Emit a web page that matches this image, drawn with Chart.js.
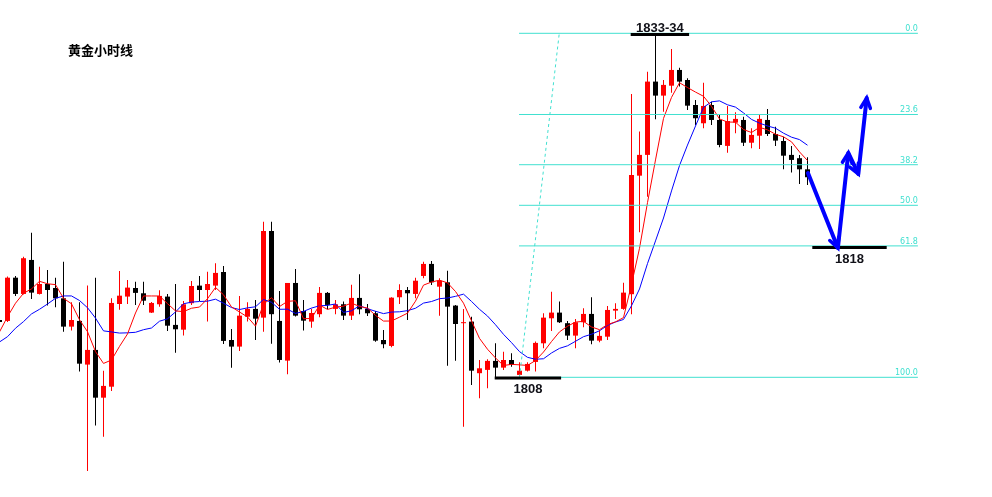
<!DOCTYPE html>
<html>
<head>
<meta charset="utf-8">
<script src="https://cdn.jsdelivr.net/npm/chart.js@4.4.1/dist/chart.umd.min.js"></script>
<style>
  html, body { margin: 0; padding: 0; background: #fff; }
  #wrap { width: 992px; height: 497px; position: relative; }
</style>
</head>
<body>
<div id="wrap"><canvas id="chart"></canvas></div>
<script>
// hourly gold candles, first one is bar index -1 (cut at the left edge)
const firstBar = -1;
const opens = [1812.33, 1812.26, 1815.53, 1814.30, 1816.87, 1814.30, 1815.05, 1814.75, 1813.97, 1811.83,
  1812.26, 1808.96, 1810.07, 1806.46, 1807.29, 1813.54, 1814.10, 1814.75, 1814.35, 1812.89,
  1813.52, 1814.10, 1811.96, 1811.60, 1813.60, 1814.93, 1814.60, 1814.93, 1815.96, 1810.82,
  1810.32, 1812.58, 1813.17, 1812.51, 1819.06, 1812.26, 1809.26, 1815.13, 1813.01, 1812.21,
  1812.77, 1814.38, 1813.17, 1813.52, 1812.66, 1814.00, 1813.17, 1812.84, 1810.82, 1810.37,
  1814.05, 1814.60, 1814.30, 1815.66, 1816.57, 1814.85, 1815.18, 1813.42, 1812.09, 1812.21,
  1808.31, 1808.56, 1809.24, 1808.73, 1809.31, 1808.18, 1808.50, 1809.16, 1810.57, 1812.46,
  1812.89, 1812.09, 1811.15, 1812.16, 1812.79, 1810.77, 1811.07, 1813.04, 1813.17, 1814.28,
  1823.24, 1824.81, 1830.35, 1829.29, 1830.04, 1831.23, 1830.47, 1828.58, 1827.20, 1828.58,
  1827.45, 1825.49, 1827.25, 1827.45, 1825.73, 1826.26, 1827.45, 1826.39, 1825.86, 1824.81,
  1824.56, 1823.72];
const highs = [1812.49, 1815.61, 1815.66, 1817.12, 1818.93, 1816.36, 1816.11, 1815.53, 1816.74, 1813.67,
  1813.67, 1814.93, 1815.53, 1808.50, 1813.97, 1816.04, 1815.36, 1815.23, 1815.23, 1813.69,
  1814.58, 1814.30, 1815.05, 1813.77, 1815.28, 1815.66, 1815.98, 1816.62, 1816.42, 1811.65,
  1814.15, 1813.67, 1813.85, 1819.76, 1819.76, 1814.53, 1815.13, 1816.19, 1813.85, 1813.19,
  1814.83, 1814.45, 1813.85, 1813.72, 1815.00, 1815.79, 1813.54, 1813.01, 1811.58, 1814.05,
  1815.03, 1814.83, 1815.53, 1816.74, 1816.79, 1815.49, 1816.06, 1813.47, 1813.17, 1812.58,
  1809.31, 1809.36, 1810.57, 1809.94, 1809.82, 1809.14, 1809.14, 1810.71, 1812.84, 1814.47,
  1813.72, 1812.26, 1812.41, 1813.22, 1814.05, 1811.58, 1813.39, 1813.60, 1815.15, 1829.42,
  1826.57, 1831.10, 1833.87, 1830.47, 1832.82, 1831.40, 1830.60, 1828.96, 1830.27, 1828.83,
  1827.83, 1828.51, 1828.03, 1827.70, 1826.82, 1827.88, 1828.28, 1826.94, 1826.19, 1825.49,
  1824.81, 1824.63];
const lows = [1812.03, 1812.18, 1814.15, 1814.25, 1813.92, 1814.25, 1813.42, 1813.29, 1811.45, 1811.53,
  1808.43, 1800.92, 1804.35, 1803.51, 1806.97, 1813.11, 1813.54, 1813.47, 1813.47, 1812.86,
  1813.34, 1811.50, 1809.86, 1811.15, 1813.47, 1813.77, 1812.21, 1814.60, 1810.52, 1808.73,
  1809.99, 1812.21, 1810.82, 1811.45, 1810.54, 1809.11, 1808.23, 1812.60, 1811.53, 1811.75,
  1812.54, 1813.14, 1812.77, 1812.33, 1812.33, 1812.77, 1812.64, 1810.69, 1810.20, 1810.27,
  1813.54, 1812.33, 1813.97, 1815.49, 1814.98, 1812.66, 1808.88, 1809.26, 1804.27, 1807.42,
  1806.42, 1807.17, 1808.00, 1808.56, 1808.80, 1808.12, 1808.43, 1808.43, 1810.20, 1811.50,
  1812.10, 1810.82, 1810.20, 1811.78, 1810.50, 1810.65, 1810.82, 1812.41, 1813.10, 1812.77,
  1818.96, 1821.65, 1827.50, 1828.08, 1829.51, 1829.97, 1828.21, 1827.07, 1826.82, 1827.07,
  1825.39, 1824.98, 1826.45, 1825.49, 1825.31, 1825.26, 1826.24, 1825.49, 1823.72, 1823.47,
  1822.61, 1822.54];
const closes = [1812.18, 1815.53, 1814.30, 1817.00, 1814.40, 1815.05, 1814.60, 1813.97, 1811.83, 1812.33,
  1809.03, 1810.07, 1806.46, 1807.35, 1813.62, 1814.17, 1814.78, 1814.38, 1813.79, 1813.62,
  1814.15, 1811.90, 1811.63, 1813.52, 1814.90, 1814.60, 1815.05, 1815.89, 1810.75, 1810.32,
  1812.66, 1813.17, 1812.43, 1819.06, 1812.77, 1809.31, 1815.13, 1812.66, 1812.28, 1812.86,
  1814.38, 1813.47, 1813.52, 1812.66, 1814.00, 1813.14, 1812.84, 1810.77, 1810.50, 1814.02,
  1814.60, 1814.35, 1815.30, 1816.57, 1815.18, 1815.30, 1813.34, 1812.03, 1812.16, 1808.50,
  1808.68, 1809.24, 1808.73, 1809.31, 1808.93, 1808.50, 1809.01, 1810.60, 1812.51, 1812.89,
  1812.16, 1811.15, 1812.16, 1812.79, 1810.77, 1811.13, 1813.09, 1813.17, 1814.40, 1823.29,
  1824.81, 1830.35, 1829.29, 1830.10, 1831.23, 1830.35, 1828.53, 1827.58, 1828.51, 1827.45,
  1825.56, 1827.37, 1827.53, 1825.73, 1826.32, 1827.53, 1826.39, 1825.89, 1824.75, 1824.43,
  1823.72, 1823.12];

// moving averages: the first points (before the window is full)
const ma5Head = [1811.43, 1812.58, 1813.60, 1814.35];
const ma10Head = [1810.67, 1811.07, 1811.71, 1812.21, 1812.79, 1813.14, 1813.54, 1813.97, 1814.15, 1814.15];

// fibonacci retracement between the 1808 low and the 1834 high
const fibLevels = [0.0, 23.6, 38.2, 50.0, 61.8, 100.0];
const fibHigh = 1834;
const fibLow = 1808;
const fibFrom = 63.94;
const fibTo = 113.8;
const fibDiagX = [64.0, 68.97];
const fibDiagY = [1808, 1834];

// key levels with black marks
const levelNames = ["1833-34", "1808", "1818"];
const levelPrices = [1833.9, 1807.95, 1817.81];
const levelFrom = [77.9, 60.9, 100.6];
const levelTo = [85.2, 69.2, 109.9];

// projected path (blue arrows)
const pathX = [100.06, 103.8, 105.1, 106.35, 107.4];
const pathY = [1823.44, 1817.78, 1824.96, 1823.37, 1829.11];

const title = "黄金小时线";

const RED = "#ff0000", BLACK = "#000000", BLUE = "#0000ff", TURQ = "#40e0d0";

const wickData = [], bodyData = [], candleColors = [];
const ma5 = [], ma10 = [];
closes.forEach((c, i) => {
  const x = firstBar + i;
  const o = opens[i];
  wickData.push({ x, y: [lows[i], highs[i]] });
  bodyData.push({ x, y: [Math.min(o, c), Math.max(o, c)] });
  candleColors.push(c >= o ? RED : BLACK);
  if (i < ma5Head.length) ma5.push({ x, y: ma5Head[i] });
  else ma5.push({ x, y: closes.slice(i - 4, i + 1).reduce((a, b) => a + b, 0) / 5 });
  if (i < ma10Head.length) ma10.push({ x, y: ma10Head[i] });
  else ma10.push({ x, y: closes.slice(i - 9, i + 1).reduce((a, b) => a + b, 0) / 10 });
});

const fibPrice = (lvl) => fibHigh - (fibHigh - fibLow) * lvl / 100;

const lineDs = (data, color, width, order, extra) => Object.assign({
  type: "line", data, borderColor: color, borderWidth: width,
  pointRadius: 0, tension: 0, fill: false, order
}, extra || {});

const datasets = [
  { type: "bar", data: wickData, backgroundColor: candleColors, barThickness: 1,
    grouped: false, borderWidth: 0, inflateAmount: 0, order: 20 },
  { type: "bar", data: bodyData, backgroundColor: candleColors, barThickness: 5,
    grouped: false, borderWidth: 0, inflateAmount: 0, minBarLength: 1, order: 19 },
  lineDs(ma10, BLUE, 1, 11),
  lineDs(ma5, RED, 1, 10),
  lineDs(fibDiagX.map((x, i) => ({ x, y: fibDiagY[i] })), TURQ, 1, 6, { borderDash: [3, 3] })
];
fibLevels.forEach((lvl) => {
  datasets.push(lineDs([{ x: fibFrom, y: fibPrice(lvl) }, { x: fibTo, y: fibPrice(lvl) }], TURQ, 1, 5));
});
levelNames.forEach((n, i) => {
  datasets.push(lineDs([{ x: levelFrom[i], y: levelPrices[i] }, { x: levelTo[i], y: levelPrices[i] }], BLACK, 3, 3));
});
datasets.push(lineDs(pathX.map((x, i) => ({ x, y: pathY[i] })), BLUE, 4, 1, { borderJoinStyle: "round", borderCapStyle: "round" }));

// texts and arrow heads
const annotate = {
  id: "annotate",
  afterDatasetsDraw(chart) {
    const { ctx, scales: { x, y } } = chart;
    ctx.save();

    // arrow heads at every turn of the path
    ctx.strokeStyle = BLUE;
    ctx.lineWidth = 3.5;
    ctx.lineCap = "round";
    for (let i = 1; i < pathX.length; i++) {
      const tx = x.getPixelForValue(pathX[i]), ty = y.getPixelForValue(pathY[i]);
      const px = x.getPixelForValue(pathX[i - 1]), py = y.getPixelForValue(pathY[i - 1]);
      const ang = Math.atan2(ty - py, tx - px);
      ctx.beginPath();
      ctx.moveTo(tx - 11 * Math.cos(ang - 0.45), ty - 11 * Math.sin(ang - 0.45));
      ctx.lineTo(tx, ty);
      ctx.lineTo(tx - 11 * Math.cos(ang + 0.45), ty - 11 * Math.sin(ang + 0.45));
      ctx.stroke();
    }

    // fib labels
    ctx.fillStyle = TURQ;
    ctx.font = "8px 'DejaVu Sans'";
    ctx.textAlign = "right";
    ctx.textBaseline = "alphabetic";
    fibLevels.forEach((lvl) => {
      ctx.fillText(lvl.toFixed(1), x.getPixelForValue(fibTo), y.getPixelForValue(fibPrice(lvl)) - 2);
    });

    // level names
    ctx.fillStyle = "#111118";
    ctx.font = "bold 13px 'Liberation Sans'";
    ctx.textAlign = "center";
    levelNames.forEach((n, i) => {
      const cx = x.getPixelForValue((levelFrom[i] + levelTo[i]) / 2);
      const ly = y.getPixelForValue(levelPrices[i]);
      if (i === 0) {
        ctx.textBaseline = "alphabetic";
        ctx.fillText(n, cx, ly - 3);
      } else {
        ctx.textBaseline = "top";
        ctx.fillText(n, cx, ly + 5);
      }
    });

    // title
    ctx.fillStyle = BLACK;
    ctx.font = "bold 13px 'Noto Sans CJK SC'";
    ctx.textAlign = "left";
    ctx.textBaseline = "middle";
    ctx.fillText(title, 68, 50);
    ctx.restore();
  }
};

new Chart(document.getElementById("chart"), {
  type: "bar",
  data: { datasets },
  options: {
    responsive: true,
    maintainAspectRatio: false,
    animation: false,
    events: [],
    layout: { padding: 0 },
    plugins: { legend: { display: false }, tooltip: { enabled: false } },
    scales: {
      x: { type: "linear", min: -0.9375, max: 123.0625, offset: false, display: false },
      y: { type: "linear", min: 1798.953, max: 1836.517, display: false }
    }
  },
  plugins: [annotate]
});
</script>
</body>
</html>
